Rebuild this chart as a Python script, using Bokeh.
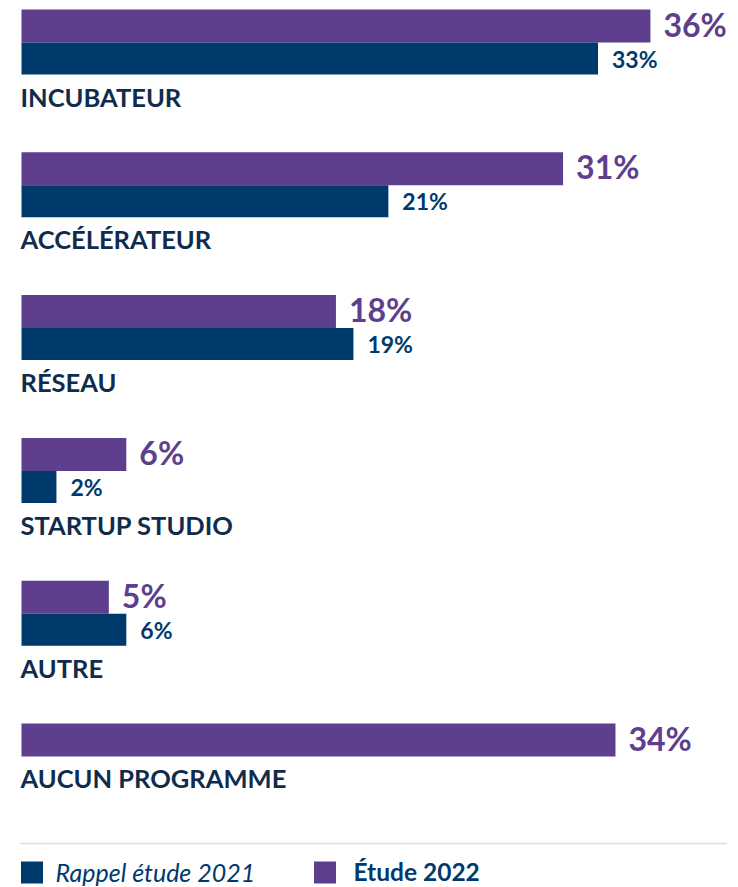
from bokeh.plotting import figure
from bokeh.models import Range1d, ColumnDataSource
from bokeh.core.properties import value
from bokeh.embed import file_html
from bokeh.resources import INLINE

categories = ["INCUBATEUR", "ACCÉLÉRATEUR", "RÉSEAU", "STARTUP STUDIO", "AUTRE", "AUCUN PROGRAMME"]
etude_2022 = [36, 31, 18, 6, 5, 34]
rappel_2021 = [33, 21, 19, 2, 6, None]
legend_labels = ["Rappel étude 2021", "Étude 2022"]

PURPLE = "#5D3F8E"
NAVY = "#003A6C"
TEXT_DARK = "#0F2C4C"
FONT = "Lato"

W, H = 738, 887
PX = 17.47          # pixels per percentage point
X0 = 21             # pixel position of zero
PITCH = 142.8       # pixel distance between groups
TOP = 9

def dx(px):
    return (px - X0) / PX

p = figure(width=W, height=H, output_backend="svg", toolbar_location=None,
           x_range=Range1d(dx(0), dx(W)), y_range=Range1d(H, 0),
           x_axis_location=None, y_axis_location=None,
           min_border=0, min_border_left=0, min_border_right=0,
           min_border_top=0, min_border_bottom=0)
p.outline_line_color = None
p.xgrid.visible = False
p.ygrid.visible = False
p.background_fill_color = "white"
p.border_fill_color = "white"

tops = [TOP + i * PITCH for i in range(len(categories))]

src22 = ColumnDataSource(dict(
    y=[t + 16.5 for t in tops], v=etude_2022,
    lab=[f"{v}%" for v in etude_2022]))
p.hbar(y="y", left=0, right="v", height=33, source=src22,
       fill_color=PURPLE, line_color=None)
p.text(x="v", y="y", text="lab", source=src22, x_offset=13, y_offset=-2,
       text_font=value(FONT), text_font_style="bold", text_font_size="32px",
       text_color=PURPLE, text_baseline="middle", text_align="left")

idx21 = [i for i, v in enumerate(rappel_2021) if v is not None]
src21 = ColumnDataSource(dict(
    y=[tops[i] + 49 for i in idx21], v=[rappel_2021[i] for i in idx21],
    lab=[f"{rappel_2021[i]}%" for i in idx21]))
p.hbar(y="y", left=0, right="v", height=32, source=src21,
       fill_color=NAVY, line_color=None)
p.text(x="v", y="y", text="lab", source=src21, x_offset=14, y_offset=0,
       text_font=value(FONT), text_font_style="bold", text_font_size="23px",
       text_color=NAVY, text_baseline="middle", text_align="left")

cat_y = [t + (87 if rappel_2021[i] is not None else 54) for i, t in enumerate(tops)]
srccat = ColumnDataSource(dict(y=cat_y, x=[0] * len(categories), lab=categories))
p.text(x="x", y="y", text="lab", source=srccat, x_offset=-1,
       text_font=value(FONT), text_font_style="bold", text_font_size="25.5px",
       text_color=TEXT_DARK, text_baseline="alphabetic", text_align="left")

# separator line
p.segment(x0=[dx(20)], y0=[843], x1=[dx(726)], y1=[843], line_color="#DCDCDC", line_width=1.5)

# legend
ly = 872
p.scatter(x=[dx(31.5), dx(324.5)], y=[ly, ly], marker="square", size=22,
          fill_color=[NAVY, PURPLE], line_color=None)
p.text(x=[dx(55)], y=[ly - 1], text=[legend_labels[0]], text_font=value(FONT),
       text_font_style="italic", text_font_size="25px", text_color=NAVY,
       text_baseline="middle", text_align="left")
p.text(x=[dx(353)], y=[ly - 1], text=[legend_labels[1]], text_font=value(FONT),
       text_font_style="bold", text_font_size="24.5px", text_color=NAVY,
       text_baseline="middle", text_align="left")

open("out.html", "w").write(file_html(p, INLINE))
